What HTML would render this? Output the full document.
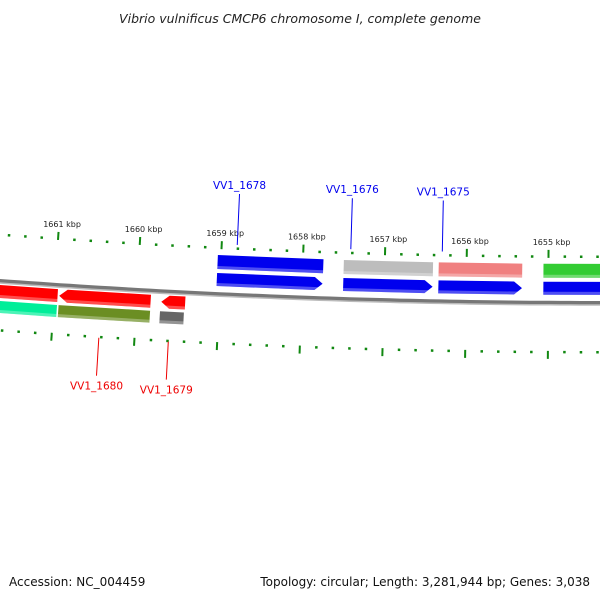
<!DOCTYPE html>
<html><head><meta charset="utf-8"><style>
html,body{margin:0;padding:0;background:#fff;width:600px;height:600px;overflow:hidden}
svg{display:block;font-family:"DejaVu Sans","Liberation Sans",sans-serif}
</style></head><body>
<svg id="map" width="600" height="600" viewBox="0 0 600 600">
<text x="300" y="23" text-anchor="middle" font-size="12.5" font-style="italic" fill="#222">Vibrio vulnificus CMCP6 chromosome I, complete genome</text>
<text x="9" y="586" font-size="12" fill="#111">Accession: NC_004459</text>
<text x="590" y="586" text-anchor="end" font-size="12" fill="#111">Topology: circular; Length: 3,281,944 bp; Genes: 3,038</text>
<g id="layer"></g>
</svg>
<script>
// tick labels (kbp)
const tickKbp = [1661, 1660, 1659, 1658, 1657, 1656, 1655];
// genes: start/end in kbp, strand, row, color
const geneNames = ["top-blue", "top-gray", "top-pink", "top-green", "fwd-1678", "fwd-1676", "fwd-1675", "fwd-next", "rev-prev", "rev-1680", "rev-1679", "bot-teal", "bot-olive", "bot-gray"];
const geneStart = [1659.04, 1657.50, 1656.34, 1655.06, 1659.04, 1657.50, 1656.34, 1655.06, 1661.8, 1660.94, 1659.70, 1661.8, 1660.94, 1659.71];
const geneEnd =   [1657.75, 1656.41, 1655.32, 1654.0, 1657.75, 1656.41, 1655.32, 1654.0, 1660.96, 1659.83, 1659.41, 1660.96, 1659.83, 1659.42];
const geneRow =   [0, 0, 0, 0, 1, 1, 1, 1, 2, 2, 2, 3, 3, 3];
const geneArrow = [0, 0, 0, 0, 1, 1, 1, 0, 0, -1, -1, 0, 0, 0];
const geneColor = ["#0000ee", "#bdbdbd", "#f08080", "#33cc33", "#0000ee", "#0000ee", "#0000ee", "#0000ee", "#ff0000", "#ff0000", "#ff0000", "#00ee99", "#6b8e23", "#666666"];
// gene labels
const labelText = ["VV1_1678", "VV1_1676", "VV1_1675", "VV1_1680", "VV1_1679"];
const labelKbp = [1658.81, 1657.42, 1656.30, 1660.43, 1659.59];
const labelSide = [-1, -1, -1, 1, 1];

const R = 8193, CX = 600, CY = 303 - R;
const kx = k => 55 + (1661 - k) * 82.2;
function pt(x, off) { const t = Math.asin((x - CX) / R); const r = R + off; return [CX + r * Math.sin(t), CY + r * Math.cos(t)]; }
const rows = [[-39, -25], [-21, -8], [4, 17], [20, 32]];
const NS = "http://www.w3.org/2000/svg";
const layer = document.getElementById("layer");
function mk(tag, attrs) { const e = document.createElementNS(NS, tag); for (const k in attrs) e.setAttribute(k, attrs[k]); layer.appendChild(e); return e; }
function poly(points) { return points.map(p => p[0].toFixed(1) + "," + p[1].toFixed(1)).join(" "); }

// backbone
let bb = []; for (let x = -10; x <= 610; x += 10) bb.push(pt(x, 0));
const back = mk("polyline", { points: poly(bb), fill: "none", stroke: "#777", "stroke-width": 4 });


let bb2 = []; for (let x = -10; x <= 610; x += 10) bb2.push(pt(x, 2));
const backL = mk("polyline", { points: poly(bb2), fill: "none", stroke: "#bbb", "stroke-width": 1.5 });



// ticks
for (let k = 1662; k >= 1654; k -= 0.2) {
  const kk = Math.round(k * 10) / 10;
  const major = Math.abs(kk - Math.round(kk)) < 1e-6;
  const x = kx(kk);
  if (x < -5 || x > 605) continue;
  for (const [off, dir] of [[-45, -1], [48, 1]]) {
    const len = major ? 8 : 2.5;
    const a = pt(x, off - (dir < 0 ? len : 0)), b = pt(x, off + (dir > 0 ? len : 0));
    const t = mk("line", { x1: a[0], y1: a[1], x2: b[0], y2: b[1], stroke: "#118811", "stroke-width": major ? 2 : 2.5 });
    
    
  }
}
tickKbp.forEach(k => {
  const p = pt(kx(k), -61);
  const t = mk("text", { x: p[0] + 3, y: p[1] + 3, "text-anchor": "middle", "font-size": 8, fill: "#222" });
  t.textContent = k + " kbp";
  
  
});

// genes
geneNames.forEach((n, i) => {
  const x1 = kx(geneStart[i]), x2 = kx(geneEnd[i]);
  const [o1, o2] = rows[geneRow[i]];
  const om = (o1 + o2) / 2, ah = 8;
  let pts;
  if (geneArrow[i] > 0) pts = [pt(x1, o1), pt(x2 - ah, o1), pt(x2, om), pt(x2 - ah, o2), pt(x1, o2)];
  else if (geneArrow[i] < 0) pts = [pt(x1 + ah, o1), pt(x2, o1), pt(x2, o2), pt(x1 + ah, o2), pt(x1, om)];
  else pts = [pt(x1, o1), pt(x2, o1), pt(x2, o2), pt(x1, o2)];
  const g = mk("polygon", { points: poly(pts), fill: geneColor[i] });
  
  
  const hl = mk("polygon", { points: poly([pt(x1, o2 - 3), pt(x2 - (geneArrow[i] > 0 ? 2 : 0), o2 - 3), pt(x2 - (geneArrow[i] > 0 ? 2 : 0), o2), pt(x1, o2)]), fill: "#fff", "fill-opacity": 0.3 });
  
  
});

// labels
labelText.forEach((s, i) => {
  const x = kx(labelKbp[i]);
  const up = labelSide[i] < 0;
  const color = up ? "#0000ee" : "#ee0000";
  const a = pt(x, up ? -50 : 50), b = pt(x, up ? -101 : 88);
  const l = mk("line", { x1: a[0], y1: a[1], x2: b[0], y2: b[1], stroke: color, "stroke-width": 1 });
  
  
  const t = mk("text", { x: b[0], y: up ? b[1] - 5 : b[1] + 14, "text-anchor": "middle", "font-size": 10.5, fill: color });
  t.textContent = s;
  
  
});
</script>
</body></html>
